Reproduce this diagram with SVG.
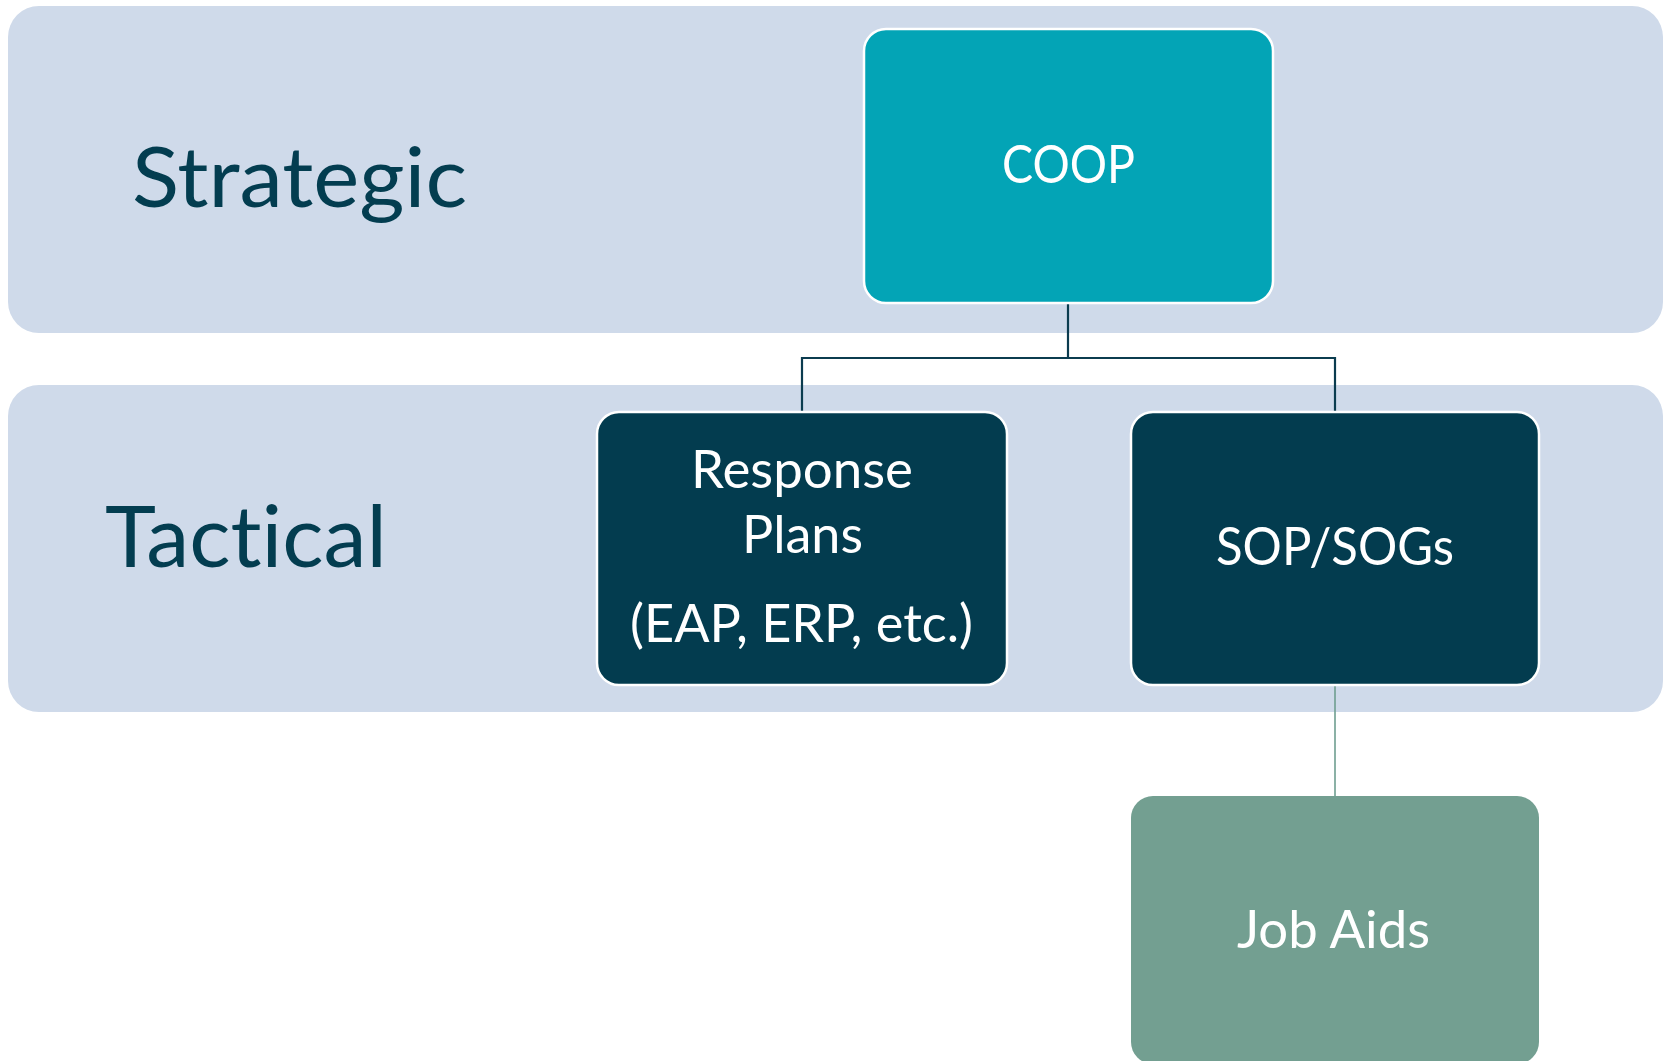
<svg xmlns="http://www.w3.org/2000/svg" width="1663" height="1061" viewBox="0 0 1663 1061">
<style>
.band{fill:#CFDAEA}
.lbl{font-family:Lato,"Open Sans","Liberation Sans",sans-serif;fill:#033D50;font-variant-ligatures:none;font-feature-settings:"liga" 0,"dlig" 0,"clig" 0}
.box{stroke:#FFFFFF;stroke-width:2.5}
.t{font-family:Lato,"Open Sans","Liberation Sans",sans-serif;fill:#FFFFFF;font-size:52px;font-variant-ligatures:none;font-feature-settings:"liga" 0,"dlig" 0,"clig" 0}
.con{fill:none;stroke:#0B3C4F;stroke-width:2.2}
.con2{fill:none;stroke:#6F9E90;stroke-width:1.6}
</style>
<rect width="1663" height="1061" fill="#FFFFFF"/>
<g id="band-strategic">
<rect class="band" x="8" y="6" width="1655" height="327" rx="31" ry="31"/>
<text class="lbl" x="132" y="207" font-size="84" textLength="335" lengthAdjust="spacingAndGlyphs">Strategic</text>
</g>
<g id="band-tactical">
<rect class="band" x="8" y="385" width="1655" height="327" rx="31" ry="31"/>
<text class="lbl" x="105" y="567" font-size="85" textLength="282" lengthAdjust="spacingAndGlyphs">Tactical</text>
</g>
<g id="connectors">
<path class="con" d="M1068 303 V358 M802 358 H1335 M802 357 V412 M1335 357 V412"/>
<path class="con2" d="M1335 685 V796"/>
</g>
<g id="node-coop">
<rect class="box" x="864" y="29" width="409" height="274" rx="22" ry="22" fill="#03A4B6"/>
<text class="t" x="1002" y="183" textLength="133" lengthAdjust="spacingAndGlyphs">COOP</text>
</g>
<g id="node-response">
<rect class="box" x="597" y="412" width="410" height="273" rx="22" ry="22" fill="#033C4F"/>
<text class="t" x="691" y="488" textLength="222" lengthAdjust="spacingAndGlyphs">Response</text>
<text class="t" x="742" y="553" textLength="121" lengthAdjust="spacingAndGlyphs">Plans</text>
<text class="t" x="630" y="642" textLength="343" lengthAdjust="spacingAndGlyphs">(EAP, ERP, etc.)</text>
</g>
<g id="node-sop">
<rect class="box" x="1131" y="412" width="408" height="273" rx="22" ry="22" fill="#033C4F"/>
<text class="t" x="1216" y="565" textLength="238" lengthAdjust="spacingAndGlyphs">SOP/SOGs</text>
</g>
<g id="node-jobaids">
<rect x="1131" y="796" width="408" height="268" rx="22" ry="22" fill="#739F91"/>
<text class="t" x="1237" y="948" textLength="193" lengthAdjust="spacingAndGlyphs">Job Aids</text>
</g>
</svg>
